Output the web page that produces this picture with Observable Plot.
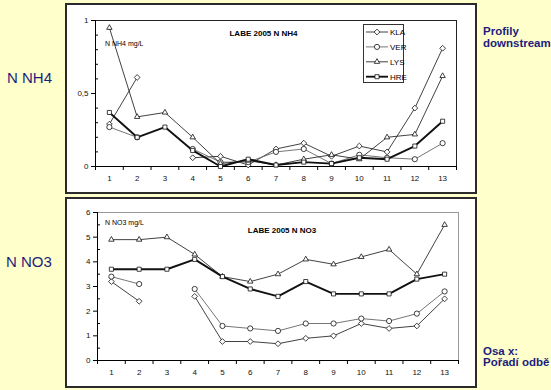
<!DOCTYPE html>
<html><head><meta charset="utf-8">
<script src="https://cdn.jsdelivr.net/npm/d3@7"></script>
<script src="https://cdn.jsdelivr.net/npm/@observablehq/plot@0.6"></script>
<style>
body{margin:0;background:#ffffcc;}
#page{position:relative;width:551px;height:390px;overflow:hidden;background:#ffffcc;font-family:"Liberation Sans",Arial,sans-serif;}
.panel{position:absolute;left:65px;width:408px;height:187px;border:2px solid #2a2a2a;background:#fff;}
.panel svg{display:block;}
#overlay{position:absolute;left:0;top:0;}
</style></head>
<body><div id="page"><div class="panel" id="p1" style="top:3px"></div><div class="panel" id="p2" style="top:197px"></div></div>
<script>
// ---- data ----
const stations = [1,2,3,4,5,6,7,8,9,10,11,12,13];
const seriesNames = ["KLA","VER","LYS","HRE"];

const nh4_KLA = [0.29, 0.61, null, 0.06, 0.07, 0.01, 0.12, 0.16, 0.07, 0.14, 0.10, 0.40, 0.81];
const nh4_VER = [0.27, 0.20, null, 0.12, 0.03, 0.03, 0.10, 0.12, 0.02, 0.08, 0.06, 0.05, 0.16];
const nh4_LYS = [0.95, 0.34, 0.37, 0.20, 0.02, 0.04, 0.01, 0.05, 0.08, 0.05, 0.20, 0.22, 0.62];
const nh4_HRE = [0.37, 0.20, 0.27, 0.11, 0.00, 0.05, 0.01, 0.03, 0.02, 0.06, 0.05, 0.14, 0.31];

const no3_KLA = [3.2, 2.4, null, 2.6, 0.77, 0.77, 0.68, 0.9, 1.0, 1.5, 1.3, 1.4, 2.5];
const no3_VER = [3.4, 3.1, null, 2.9, 1.4, 1.3, 1.2, 1.5, 1.5, 1.7, 1.6, 1.9, 2.8];
const no3_LYS = [4.9, 4.9, 5.0, 4.3, 3.4, 3.2, 3.5, 4.1, 3.9, 4.2, 4.5, 3.5, 5.5];
const no3_HRE = [3.7, 3.7, 3.7, 4.1, 3.4, 2.9, 2.6, 3.2, 2.7, 2.7, 2.7, 3.3, 3.5];

const nh4Ticks = [0, 0.5, 1];
const no3Ticks = [0, 1, 2, 3, 4, 5, 6];

// ---- styles ----
const styles = {
  KLA: {symbol: "diamond2", stroke: "#111", width: 0.8, sym: d3.symbolDiamond2},
  VER: {symbol: "circle", stroke: "#666", width: 0.9, sym: d3.symbolCircle},
  LYS: {symbol: "triangle2", stroke: "#111", width: 0.8, sym: d3.symbolTriangle2},
  HRE: {symbol: "square2", stroke: "#111", width: 1.9, sym: d3.symbolSquare2}
};
const font = '"Liberation Sans", Arial, sans-serif';

function rows(obj) {
  const out = [];
  for (const s of seriesNames) obj[s].forEach((v, i) => out.push({station: stations[i], value: v, series: s}));
  return out;
}

function panel(el, data, o) {
  const boundaries = d3.range(0.5, stations.length + 1, 1);
  const marks = [
    Plot.ruleY([o.yMax], {stroke: o.frame, strokeWidth: 1}),
    Plot.ruleX([stations.length + 0.5], {stroke: o.frame, strokeWidth: 1}),
    Plot.ruleX([0.5], {stroke: "#000"}),
    Plot.ruleY([0], {stroke: "#000"}),
    Plot.axisY(o.major, {tickSize: 4, tickPadding: 3, tickFormat: o.fmt, fontSize: 8, label: null, fill: "#111"}),
    Plot.axisY(o.minor, {tickSize: -3, tickFormat: () => "", label: null}),
    Plot.axisX(stations, {tickSize: 0, tickPadding: 9, fontSize: 8, label: null, fill: "#111"}),
    Plot.axisX(boundaries, {tickSize: 4, tickFormat: () => "", label: null})
  ];
  for (const s of seriesNames) {
    const d = data.filter(r => r.series === s);
    marks.push(Plot.line(d, {x: "station", y: "value", stroke: styles[s].stroke, strokeWidth: styles[s].width}));
  }
  for (const s of seriesNames) {
    const d = data.filter(r => r.series === s && r.value != null);
    marks.push(Plot.dot(d, {x: "station", y: "value", symbol: styles[s].symbol, r: 2.6, fill: "white", stroke: "#111", strokeWidth: 0.8}));
  }
  const chart = Plot.plot({
    width: 408, height: 187,
    marginLeft: o.ml, marginRight: o.mr, marginTop: o.mt, marginBottom: o.mb,
    style: {fontFamily: font, fontSize: "8px", background: "white", overflow: "visible"},
    x: {domain: [0.5, stations.length + 0.5]},
    y: {domain: [0, o.yMax]},
    marks
  });
  el.appendChild(chart);
}

panel(document.getElementById("p1"), rows({KLA: nh4_KLA, VER: nh4_VER, LYS: nh4_LYS, HRE: nh4_HRE}), {
  yMax: 1, major: nh4Ticks, minor: [0.1,0.2,0.3,0.4,0.6,0.7,0.8,0.9],
  fmt: d => String(d).replace(".", ","), frame: "#222",
  ml: 28, mr: 19, mt: 15, mb: 26
});
panel(document.getElementById("p2"), rows({KLA: no3_KLA, VER: no3_VER, LYS: no3_LYS, HRE: no3_HRE}), {
  yMax: 6, major: no3Ticks, minor: [0.5,1.5,2.5,3.5,4.5,5.5],
  fmt: d => String(d), frame: "#999",
  ml: 30, mr: 17, mt: 13, mb: 26
});

// ---- overlay texts & legend ----
const svg = d3.select("#page").append("svg").attr("id", "overlay")
  .attr("width", 551).attr("height", 390).style("font-family", font).style("pointer-events", "none");
const navy = "#1c1c7c";
svg.append("text").attr("x", 7).attr("y", 83).attr("font-size", 15).attr("fill", navy).text("N NH4");
svg.append("text").attr("x", 6).attr("y", 267).attr("font-size", 15).attr("fill", navy).text("N NO3");
svg.append("text").attr("x", 483).attr("y", 34.5).attr("font-size", 11.5).attr("font-weight", "bold").attr("fill", navy).text("Profily");
svg.append("text").attr("x", 483).attr("y", 46.5).attr("font-size", 11.5).attr("font-weight", "bold").attr("fill", navy).text("downstream");
svg.append("text").attr("x", 483).attr("y", 355).attr("font-size", 11.5).attr("font-weight", "bold").attr("fill", navy).text("Osa x:");
svg.append("text").attr("x", 483).attr("y", 366).attr("font-size", 11.5).attr("font-weight", "bold").attr("fill", navy).text("Pořadí odbě");

svg.append("text").attr("x", 263.5).attr("y", 36).attr("font-size", 8).attr("font-weight", "bold").attr("text-anchor", "middle").text("LABE 2005 N NH4");
svg.append("text").attr("x", 105).attr("y", 46).attr("font-size", 7).text("N NH4 mg/L");
svg.append("text").attr("x", 282).attr("y", 233).attr("font-size", 8).attr("font-weight", "bold").attr("text-anchor", "middle").text("LABE 2005 N NO3");
svg.append("text").attr("x", 105).attr("y", 225).attr("font-size", 7).text("N NO3 mg/L");

const lg = svg.append("g");
lg.append("rect").attr("x", 363.5).attr("y", 24.5).attr("width", 40).attr("height", 58).attr("fill", "white").attr("stroke", "#333").attr("stroke-width", 1);
seriesNames.forEach((s, i) => {
  const y = 32 + i * 14.9;
  lg.append("line").attr("x1", 366).attr("x2", 388).attr("y1", y).attr("y2", y).attr("stroke", styles[s].stroke).attr("stroke-width", styles[s].width);
  lg.append("path").attr("d", d3.symbol(styles[s].sym, 21)()).attr("transform", `translate(377,${y})`).attr("fill", "white").attr("stroke", "#111").attr("stroke-width", 0.8);
  lg.append("text").attr("x", 390).attr("y", y + 3).attr("font-size", 8).text(s);
});
</script></body></html>
